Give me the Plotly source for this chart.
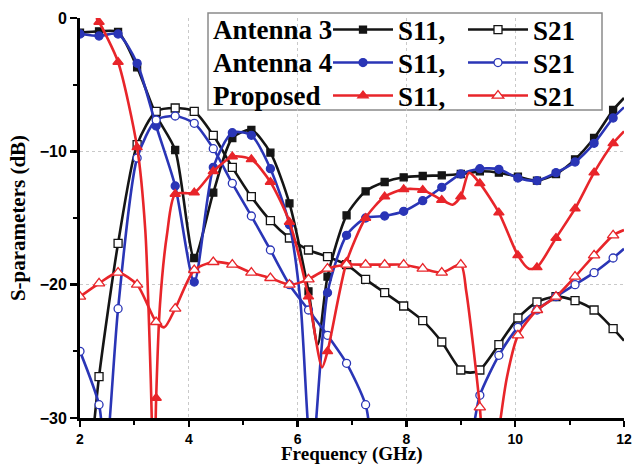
import plotly.graph_objects as go

# ---------------- data ----------------
MARKER_FREQ = [2.0, 2.35, 2.7, 3.05, 3.4, 3.75, 4.1, 4.45, 4.8, 5.15, 5.5, 5.85, 6.2,
               6.55, 6.9, 7.25, 7.6, 7.95, 8.3, 8.65, 9.0, 9.35, 9.7, 10.05, 10.4,
               10.75, 11.1, 11.45, 11.8]

A3_S11_F = [2.0, 2.35, 2.7, 3.05, 3.4, 3.75, 4.1, 4.45, 4.8, 5.15, 5.5, 5.85, 6.2, 6.37,
            6.55, 6.9, 7.25, 7.6, 7.95, 8.3, 8.65, 9.0, 9.35, 9.7, 10.05, 10.4, 10.75,
            11.1, 11.45, 11.8, 12.0]
A3_S11 = [-1.1, -1.0, -1.05, -3.7, -7.3, -9.9, -18.0, -13.1, -9.0, -8.4, -10.1, -13.9,
          -20.5, -24.5, -19.4, -14.8, -13.0, -12.3, -11.95, -11.85, -11.8, -11.7, -11.5,
          -11.6, -11.9, -12.2, -11.7, -10.6, -9.0, -6.9, -6.0]

A3_S21_F = [2.2, 2.35, 2.7, 3.05, 3.4, 3.75, 4.1, 4.45, 4.8, 5.15, 5.5, 5.85, 6.2, 6.55,
            6.9, 7.25, 7.6, 7.95, 8.3, 8.65, 9.0, 9.17, 9.35, 9.7, 10.05, 10.4, 10.75,
            11.1, 11.45, 11.8, 12.0]
A3_S21 = [-33.0, -26.9, -16.9, -9.5, -7.0, -6.75, -7.0, -8.8, -11.2, -13.4, -15.2, -16.5,
          -17.4, -17.9, -18.5, -19.6, -20.6, -21.6, -22.7, -24.3, -26.4, -26.6, -26.4,
          -24.5, -22.5, -21.3, -20.9, -21.2, -21.9, -23.3, -24.2]

A4_S11_F = [2.0, 2.35, 2.7, 3.05, 3.4, 3.75, 4.1, 4.45, 4.8, 5.15, 5.5, 5.85, 6.05, 6.2,
            6.27, 6.55, 6.9, 7.25, 7.6, 7.95, 8.3, 8.65, 9.0, 9.35, 9.7, 10.05, 10.4,
            10.75, 11.1, 11.45, 11.8, 12.0]
A4_S11 = [-1.2, -1.35, -1.2, -3.4, -8.1, -12.6, -19.8, -11.2, -8.6, -8.8, -11.3, -15.5,
          -21.2, -31.0, -33.0, -20.6, -16.3, -15.0, -14.85, -14.5, -13.7, -12.7, -11.7,
          -11.3, -11.35, -12.0, -12.2, -11.6, -10.8, -9.4, -7.5, -6.7]

A4_S21_F = [2.0, 2.35, 2.47, 2.7, 3.05, 3.4, 3.75, 4.1, 4.45, 4.8, 5.15, 5.5, 5.85, 6.2,
            6.55, 6.9, 7.25, 7.6, 9.0, 9.35, 9.7, 10.05, 10.4, 10.75, 11.1, 11.45, 11.8,
            12.0]
A4_S21 = [-25.0, -29.0, -33.0, -21.8, -10.5, -7.65, -7.35, -7.9, -9.8, -12.4, -14.85,
          -17.4, -20.0, -21.9, -23.8, -25.9, -29.0, -36.0, -34.0, -28.3, -25.3, -23.2,
          -21.9, -20.9, -20.0, -19.1, -18.0, -17.3]

P_S11_F = [2.3, 2.35, 2.7, 3.05, 3.2, 3.3, 3.36, 3.4, 3.47, 3.6, 3.75, 4.1, 4.45, 4.8,
           5.15, 5.5, 5.85, 6.2, 6.45, 6.55, 6.9, 7.25, 7.6, 7.95, 8.3, 8.65, 8.85, 9.0,
           9.15, 9.35, 9.7, 10.05, 10.25, 10.4, 10.75, 11.1, 11.45, 11.8, 12.0]
P_S11 = [0.0, -0.3, -3.3, -9.7, -15.9, -27.0, -36.0, -28.5, -21.5, -16.2, -13.2, -13.1,
         -11.5, -10.4, -10.6, -12.3, -15.3, -20.9, -26.2, -25.0, -18.3, -15.0, -13.4,
         -12.85, -12.9, -13.65, -14.0, -13.4, -11.6, -12.4, -14.6, -17.8, -18.8, -18.7,
         -16.5, -14.3, -11.6, -9.4, -8.5]

P_S21_F = [2.0, 2.35, 2.7, 3.05, 3.4, 3.55, 3.75, 4.1, 4.45, 4.8, 5.15, 5.5, 5.85, 6.2,
           6.55, 6.9, 7.25, 7.6, 7.95, 8.3, 8.65, 9.0, 9.1, 9.35, 9.5, 9.7, 9.85, 10.05,
           10.4, 10.75, 11.1, 11.45, 11.8, 12.0]
P_S21 = [-20.9, -19.9, -19.1, -20.0, -22.8, -23.2, -21.8, -18.9, -18.3, -18.5, -19.1,
         -19.5, -20.0, -19.6, -18.8, -18.5, -18.5, -18.5, -18.5, -18.8, -19.1, -18.5,
         -20.5, -29.2, -38.0, -31.0, -26.9, -23.8, -21.9, -20.9, -19.4, -17.8, -16.3,
         -15.9]

ROW_LABELS = ["Antenna 3", "Antenna 4", "Proposed"]
X_TICKS = [2, 4, 6, 8, 10, 12]
Y_TICKS = [0, -10, -20, -30]
X_TITLE = "Frequency (GHz)"
Y_TITLE = "S-parameters (dB)"

# ---------------- styling ----------------
BLACK = "#151515"
BLUE = "#2a35b6"
RED = "#e8252a"
SERIF = "Liberation Serif"
SANS = "Liberation Sans"
LW = 2.6

fig = go.Figure()

series = [
    (A3_S11_F, A3_S11, BLACK, "square", False, 7, "legend", "S11,"),
    (A3_S21_F, A3_S21, BLACK, "square", True, 8, "legend", "S21"),
    (A4_S11_F, A4_S11, BLUE, "circle", False, 8, "legend2", "S11,"),
    (A4_S21_F, A4_S21, BLUE, "circle", True, 8, "legend2", "S21"),
    (P_S11_F, P_S11, RED, "triangle-up", False, 9, "legend3", "S11,"),
    (P_S21_F, P_S21, RED, "triangle-up", True, 10, "legend3", "S21"),
]

mark_set = set(round(v, 2) for v in MARKER_FREQ)

for f, v, col, sym, is_open, size, leg, label in series:
    fig.add_trace(go.Scatter(
        x=f, y=v, mode="lines",
        line=dict(color=col, width=LW, shape="spline", smoothing=0.7),
        showlegend=False, hoverinfo="skip"))
    mf = [a for a in f if round(a, 2) in mark_set]
    mv = [b for a, b in zip(f, v) if round(a, 2) in mark_set]
    marker = dict(symbol=sym, size=size,
                  color="white" if is_open else col,
                  line=dict(color=col, width=1.3))
    fig.add_trace(go.Scatter(x=mf, y=mv, mode="markers", marker=marker,
                             showlegend=False, hoverinfo="skip"))
    fig.add_trace(go.Scatter(x=[None], y=[None], mode="lines+markers",
                             line=dict(color=col, width=LW), marker=marker,
                             name=label, legend=leg, showlegend=True))

W, H = 638, 467
L, R, T, B = 80, 14, 18, 49
pw, ph = W - L - R, H - T - B


def px_x(px):
    return (px - L) / pw


def px_y(py):
    return (H - B - py) / ph


legend_font = dict(family=SERIF, size=27, color="black", weight="bold")
row_y = [30, 63, 96]
leg_common = dict(orientation="h", xanchor="left", yanchor="middle",
                  xref="container", yref="container",
                  font=legend_font, bgcolor="rgba(0,0,0,0)", borderwidth=0,
                  itemwidth=60, entrywidth=60, entrywidthmode="pixels",
                  tracegroupgap=0, itemclick=False, itemdoubleclick=False,
                  traceorder="normal")

annotations = []
for lab, yy in zip(ROW_LABELS, row_y):
    annotations.append(dict(text=lab, xref="paper", yref="paper",
                            x=px_x(211), y=px_y(yy), xanchor="left",
                            yanchor="middle", showarrow=False, font=legend_font))
annotations.append(dict(text=X_TITLE, xref="paper", yref="paper", x=0.5,
                        y=px_y(467), xanchor="center", yanchor="bottom",
                        showarrow=False,
                        font=dict(family=SERIF, size=19, color="black",
                                  weight="bold")))

legends = {}
for i, yy in enumerate(row_y):
    key = "legend" if i == 0 else "legend%d" % (i + 1)
    legends[key] = dict(leg_common, x=328 / W, y=1 - yy / H)

fig.update_layout(
    width=W, height=H,
    margin=dict(l=L, r=R, t=T, b=B, pad=0, autoexpand=False),
    paper_bgcolor="white", plot_bgcolor="white",
    showlegend=True,
    annotations=annotations,
    shapes=[dict(type="rect", xref="paper", yref="paper",
                 x0=px_x(208), x1=px_x(602), y0=px_y(110), y1=px_y(13),
                 line=dict(color="#8a8a8a", width=1.5), fillcolor="white",
                 layer="between")],
    xaxis=dict(range=[2, 12], tickvals=X_TICKS, ticks="outside", ticklen=6,
               tickwidth=2.5, tickcolor="black", showline=True, linewidth=3,
               linecolor="black", showgrid=True, gridcolor="#c9c9c9",
               griddash="dot", gridwidth=1, zeroline=False,
               tickfont=dict(family=SANS, size=14, color="black", weight="bold"),
               minor=dict(dtick=1, tick0=2, ticks="outside", ticklen=4,
                          tickwidth=2, tickcolor="black", showgrid=False),
               automargin=False),
    yaxis=dict(range=[-30, 0], tickvals=Y_TICKS, ticks="outside", ticklen=7,
               tickwidth=2.5, tickcolor="black", showline=True, linewidth=3,
               linecolor="black", showgrid=True, gridcolor="#c9c9c9",
               griddash="dot", gridwidth=1, zeroline=False,
               tickfont=dict(family=SANS, size=16, color="black", weight="bold"),
               minor=dict(dtick=5, tick0=0, ticks="outside", ticklen=4,
                          tickwidth=2, tickcolor="black", showgrid=False),
               title=dict(text=Y_TITLE, standoff=9,
                          font=dict(family=SERIF, size=21, color="black",
                                    weight="bold")),
               automargin=False),
    **legends,
)

fig.write_html("out.html",
               config={"displayModeBar": False, "staticPlot": True},
               post_script="document.body.style.margin='0';"
                           "document.body.style.overflow='hidden';")
